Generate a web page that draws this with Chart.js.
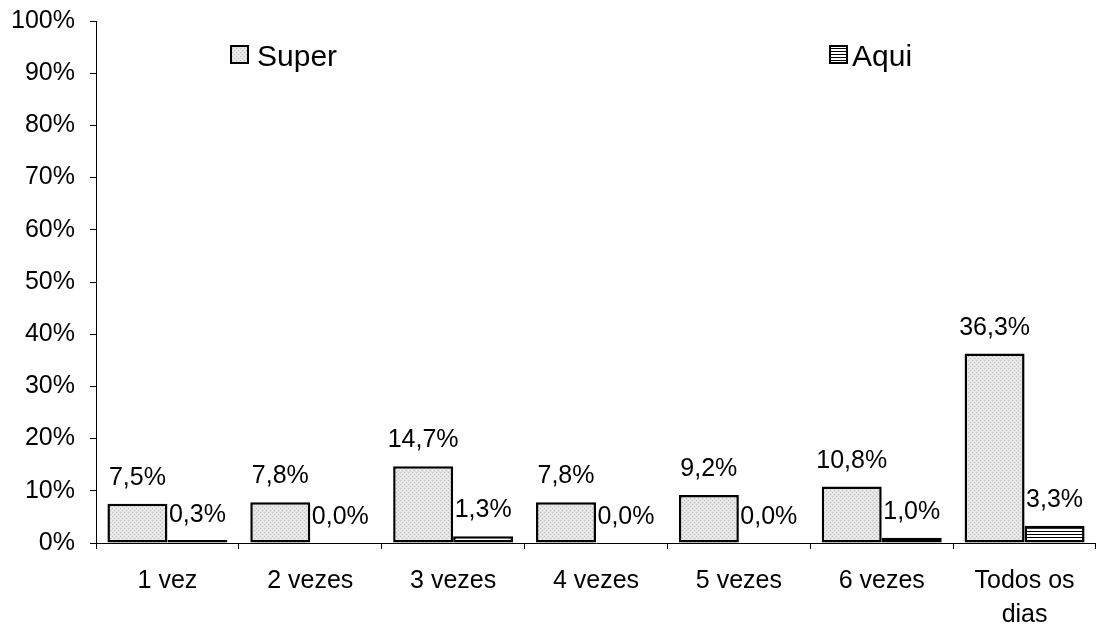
<!DOCTYPE html>
<html>
<head>
<meta charset="utf-8">
<script src="https://cdn.jsdelivr.net/npm/chart.js@4/dist/chart.umd.min.js"></script>
<style>
html,body{margin:0;padding:0;background:#fff;}
#wrap{width:1096px;height:626px;position:relative;}
</style>
</head>
<body>
<div id="wrap"><canvas id="c" width="1096" height="626"></canvas></div>
<script>
const categories = ['1 vez', '2 vezes', '3 vezes', '4 vezes', '5 vezes', '6 vezes', ['Todos os', 'dias']];
const seriesNames = ['Super', 'Aqui'];
const superValues = [7.5, 7.8, 14.7, 7.8, 9.2, 10.8, 36.3];
const aquiValues = [0.3, 0.0, 1.3, 0.0, 0.0, 1.0, 3.3];
const yTicks = [0, 10, 20, 30, 40, 50, 60, 70, 80, 90, 100];

const FONT = '"Liberation Sans", Arial, sans-serif';

function makeDotPattern() {
  const c = document.createElement('canvas');
  c.width = 4; c.height = 4;
  const x = c.getContext('2d');
  x.fillStyle = '#e4e4e4'; x.fillRect(0, 0, 4, 4);
  x.fillStyle = '#bcbcbc';
  x.fillRect(0, 0, 1, 1); x.fillRect(2, 2, 1, 1);
  x.fillStyle = '#f4f4f4';
  x.fillRect(2, 0, 1, 1); x.fillRect(0, 2, 1, 1);
  return x.createPattern(c, 'repeat');
}
function makeLinePattern() {
  const c = document.createElement('canvas');
  c.width = 4; c.height = 3;
  const x = c.getContext('2d');
  x.fillStyle = '#ffffff'; x.fillRect(0, 0, 4, 3);
  x.fillStyle = '#000000'; x.fillRect(0, 0, 4, 1);
  return x.createPattern(c, 'repeat');
}
const dotPat = makeDotPattern();
const linePat = makeLinePattern();

const fmt = v => v.toFixed(1).replace('.', ',') + '%';

const labelPlugin = {
  id: 'barLabels',
  afterDatasetsDraw(chart) {
    const ctx = chart.ctx;
    const yScale = chart.scales.y;
    ctx.save();
    ctx.font = '25px ' + FONT;
    ctx.fillStyle = '#000';
    ctx.textAlign = 'center';
    ctx.textBaseline = 'alphabetic';
    chart.data.datasets.forEach((ds, di) => {
      const meta = chart.getDatasetMeta(di);
      meta.data.forEach((el, i) => {
        const top = yScale.getPixelForValue(ds.data[i]);
        ctx.fillText(fmt(ds.data[i]), el.x, top - 19);
      });
    });
    ctx.restore();
  }
};

const legendPlugin = {
  id: 'customLegend',
  afterDraw(chart) {
    const ctx = chart.ctx;
    const a = chart.chartArea;
    const items = [
      {x: a.left + 134, tx: a.left + 161, fill: dotPat, label: seriesNames[0]},
      {x: a.left + 733, tx: a.left + 756, fill: linePat, label: seriesNames[1]}
    ];
    ctx.save();
    ctx.font = '30px ' + FONT;
    ctx.textBaseline = 'alphabetic';
    ctx.textAlign = 'left';
    items.forEach(it => {
      const y = 45;
      ctx.fillStyle = it.fill;
      ctx.fillRect(it.x, y, 19, 19);
      ctx.lineWidth = 2;
      ctx.strokeStyle = '#000';
      ctx.strokeRect(it.x + 1, y + 1, 17, 17);
      ctx.fillStyle = '#000';
      ctx.fillText(it.label, it.tx, 66);
    });
    ctx.restore();
  }
};

new Chart(document.getElementById('c'), {
  type: 'bar',
  data: {
    labels: categories,
    datasets: [
      {label: seriesNames[0], data: superValues, backgroundColor: dotPat,
       borderColor: '#000', borderWidth: c => (c.raw === 0 ? 0 : 2.5), borderSkipped: false,
       categoryPercentage: 0.84, barPercentage: 1.0},
      {label: seriesNames[1], data: aquiValues,
       backgroundColor: c => (c.raw === 0 ? 'rgba(0,0,0,0)' : linePat),
       borderColor: '#000', borderWidth: c => (c.raw === 0 ? 0 : 2.5), borderSkipped: false,
       minBarLength: 3,
       categoryPercentage: 0.84, barPercentage: 1.0}
    ]
  },
  options: {
    responsive: false,
    animation: false,
    devicePixelRatio: 1,
    layout: {padding: {top: 21, left: 0, right: 0, bottom: 0}},
    plugins: {legend: {display: false}, tooltip: {enabled: false}},
    scales: {
      x: {
        grid: {offset: true, drawOnChartArea: false, drawTicks: true, tickLength: 6, color: '#000'},
        border: {display: true, color: '#000', width: 1},
        ticks: {color: '#000', font: {family: FONT, size: 25, lineHeight: 1.36}, padding: 15, maxRotation: 0, autoSkip: false},
        afterFit: s => { s.height = 83; s.paddingLeft = 0; s.paddingRight = 0; }
      },
      y: {
        min: 0, max: 100,
        afterBuildTicks: s => { s.ticks = yTicks.map(v => ({value: v})); },
        grid: {drawOnChartArea: false, drawTicks: true, tickLength: 6, color: '#000'},
        border: {display: true, color: '#000', width: 1},
        ticks: {color: '#000', font: {family: FONT, size: 25}, padding: 15, callback: v => v + '%'},
        afterFit: s => { s.width = 96; s.paddingTop = 0; s.paddingBottom = 0; }
      }
    }
  },
  plugins: [labelPlugin, legendPlugin]
});
</script>
</body>
</html>
